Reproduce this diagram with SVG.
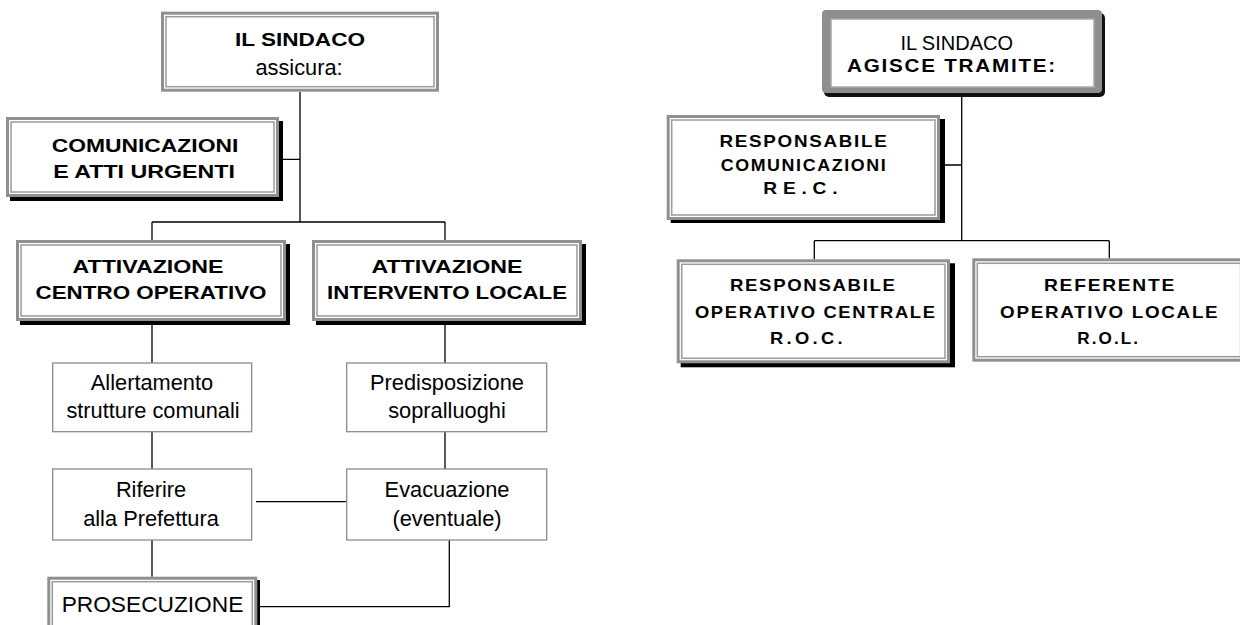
<svg xmlns="http://www.w3.org/2000/svg" width="1240" height="625" viewBox="0 0 1240 625">
<style>
.bg{fill:#fff}
.sh{fill:#000}
.fo{fill:#fff;stroke:#909090;stroke-width:3}
.fi{fill:none;stroke:#9a9a9a;stroke-width:1.5}
.box{fill:#fff;stroke:#8c8c8c;stroke-width:1.3}
.conn{fill:none;stroke:#000;stroke-width:1.3}
text{font-family:"Liberation Sans",Arial,Helvetica,sans-serif;fill:#000;text-anchor:middle}
.b{font-weight:bold;font-size:19px}
.r{font-size:21.8px}
.bs{font-weight:bold;font-size:16.5px;letter-spacing:1.5px}
</style>
<rect class="bg" x="0" y="0" width="1240" height="625"/>
<g id="connectors">
<path class="conn" d="M300,92 V222 M283,159.3 H300 M152,222 H445 M152,222 V240 M445,222 V240"/>
<path class="conn" d="M152,325 V363 M152,431.7 V469 M152,540 V576.7"/>
<path class="conn" d="M445,325 V363 M445,431.7 V469"/>
<path class="conn" d="M256,501.7 H346.7"/>
<path class="conn" d="M449.3,540 V606.7 H260"/>
<path class="conn" d="M961.7,97 V240.7 M945,165 H961.7 M814.3,240.7 H1109.3 M814.3,240.7 V259.3 M1109.3,240.7 V258.3"/>
</g>
<g id="sindaco-assicura">
<rect class="fo" x="162.5" y="13.2" width="275" height="77"/>
<rect class="fi" x="166" y="16.7" width="268" height="70"/>
<text class="b" x="300" y="46" textLength="130" lengthAdjust="spacingAndGlyphs">IL SINDACO</text>
<text class="r" x="299" y="75">assicura:</text>
</g>
<g id="comunicazioni">
<rect class="sh" x="10" y="121" width="273" height="80"/>
<rect class="fo" x="7.5" y="118.5" width="270" height="77"/>
<rect class="fi" x="11" y="122" width="263" height="70"/>
<text class="b" x="145" y="152" textLength="186.7" lengthAdjust="spacingAndGlyphs">COMUNICAZIONI</text>
<text class="b" x="144" y="178" textLength="181.7" lengthAdjust="spacingAndGlyphs">E ATTI URGENTI</text>
</g>
<g id="centro-operativo">
<rect class="sh" x="20" y="244" width="270" height="81"/>
<rect class="fo" x="17.5" y="241.5" width="267" height="78"/>
<rect class="fi" x="21" y="245" width="260" height="71"/>
<text class="b" x="148" y="273" textLength="151" lengthAdjust="spacingAndGlyphs">ATTIVAZIONE</text>
<text class="b" x="151" y="299" textLength="231" lengthAdjust="spacingAndGlyphs">CENTRO OPERATIVO</text>
</g>
<g id="intervento-locale">
<rect class="sh" x="316" y="244" width="270" height="81"/>
<rect class="fo" x="313.5" y="241.5" width="267" height="78"/>
<rect class="fi" x="317" y="245" width="260" height="71"/>
<text class="b" x="447" y="273" textLength="151" lengthAdjust="spacingAndGlyphs">ATTIVAZIONE</text>
<text class="b" x="447" y="299" textLength="240" lengthAdjust="spacingAndGlyphs">INTERVENTO LOCALE</text>
</g>
<g id="allertamento">
<rect class="box" x="52.7" y="363" width="199" height="68.7"/>
<text class="r" x="152" y="390">Allertamento</text>
<text class="r" x="153" y="418">strutture comunali</text>
</g>
<g id="predisposizione">
<rect class="box" x="346.7" y="363" width="200" height="68.7"/>
<text class="r" x="447" y="390">Predisposizione</text>
<text class="r" x="447" y="418">sopralluoghi</text>
</g>
<g id="riferire">
<rect class="box" x="52.7" y="469" width="199" height="71"/>
<text class="r" x="151" y="497">Riferire</text>
<text class="r" x="151" y="526">alla Prefettura</text>
</g>
<g id="evacuazione">
<rect class="box" x="346.7" y="469" width="200" height="71"/>
<text class="r" x="447" y="497">Evacuazione</text>
<text class="r" x="447" y="526">(eventuale)</text>
</g>
<g id="prosecuzione">
<rect class="sh" x="51" y="580" width="209" height="70"/>
<rect class="fo" x="48.8" y="578.2" width="207" height="70"/>
<rect class="fi" x="52.3" y="581.7" width="200" height="63"/>
<text class="r" x="152.5" y="611.7" textLength="181.7" lengthAdjust="spacingAndGlyphs">PROSECUZIONE</text>
</g>
<g id="sindaco-agisce">
<rect x="824" y="13" width="281" height="84" rx="5" fill="#111"/>
<rect x="822" y="10" width="280" height="83" rx="4" fill="#8e8e8e"/>
<rect x="831" y="19" width="263" height="68" fill="#fff" stroke="#a8a8a8" stroke-width="1.5"/>
<text x="956.7" y="50" style="font-size:20px">IL SINDACO</text>
<text class="bs" x="952" y="72" style="font-size:17.5px" textLength="210" lengthAdjust="spacingAndGlyphs">AGISCE TRAMITE:</text>
</g>
<g id="rec">
<rect class="sh" x="670.7" y="119" width="274.3" height="104"/>
<rect class="fo" x="668.2" y="116.5" width="270.3" height="102"/>
<rect class="fi" x="671.7" y="120" width="263.3" height="95"/>
<text class="bs" x="804" y="147.3" textLength="169" lengthAdjust="spacingAndGlyphs">RESPONSABILE</text>
<text class="bs" x="804" y="170.7" textLength="166.7" lengthAdjust="spacingAndGlyphs">COMUNICAZIONI</text>
<text class="bs" x="803.3" y="194.3" style="letter-spacing:5px" textLength="80" lengthAdjust="spacingAndGlyphs">RE.C.</text>
</g>
<g id="roc">
<rect class="sh" x="680.7" y="263.3" width="274.3" height="104"/>
<rect class="fo" x="678.2" y="260.8" width="270.3" height="101"/>
<rect class="fi" x="681.7" y="264.3" width="263.3" height="94"/>
<text class="bs" x="813.3" y="291" textLength="166.7" lengthAdjust="spacingAndGlyphs">RESPONSABILE</text>
<text class="bs" x="815.8" y="317.7" textLength="241.7" lengthAdjust="spacingAndGlyphs">OPERATIVO CENTRALE</text>
<text class="bs" x="808" y="344.3" style="letter-spacing:3px" textLength="76" lengthAdjust="spacingAndGlyphs">R.O.C.</text>
</g>
<g id="rol">
<rect class="fo" x="973.8" y="259.8" width="270.3" height="100.4"/>
<rect class="fi" x="977.3" y="263.3" width="263.3" height="93.4"/>
<text class="bs" x="1110" y="291" textLength="132" lengthAdjust="spacingAndGlyphs">REFERENTE</text>
<text class="bs" x="1109.7" y="317.7" textLength="219.3" lengthAdjust="spacingAndGlyphs">OPERATIVO LOCALE</text>
<text class="bs" x="1108.7" y="344.3" style="letter-spacing:2px" textLength="62.7" lengthAdjust="spacingAndGlyphs">R.O.L.</text>
</g>
</svg>
